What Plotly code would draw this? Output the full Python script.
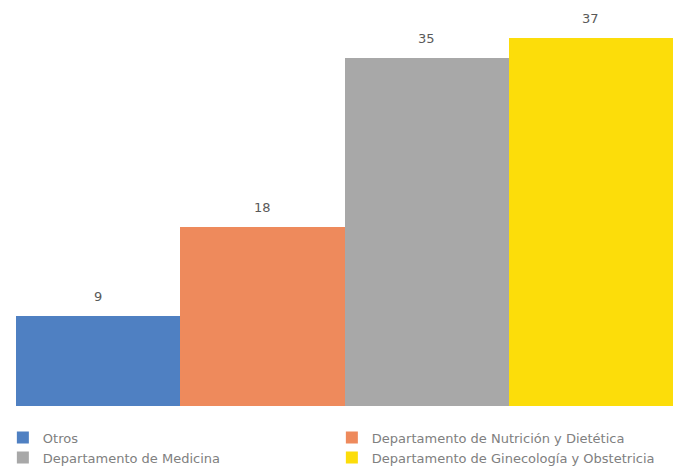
import plotly.graph_objects as go

# Data: number per department
categories = [
    "Otros",
    "Departamento de Nutrición y Dietética",
    "Departamento de Medicina",
    "Departamento de Ginecología y Obstetricia",
]
values = [9, 18, 35, 37]
colors = ["#4F80C2", "#EE8A5C", "#A8A8A8", "#FCDD0A"]

fig = go.Figure()
for i, (name, val, col) in enumerate(zip(categories, values, colors)):
    fig.add_trace(go.Bar(
        x=[i], y=[val], width=[1.0], name=name,
        marker=dict(color=col, line=dict(width=0)),
        hoverinfo="name+y",
    ))
    fig.add_annotation(
        x=i, y=val, text=str(val), showarrow=False,
        yanchor="bottom", yshift=10,
        font=dict(family="DejaVu Sans", size=13, color="#595959"),
    )

fig.update_layout(
    width=684, height=473,
    margin=dict(l=16, r=11, t=0, b=67),
    paper_bgcolor="white", plot_bgcolor="white",
    bargap=0, barmode="overlay",
    showlegend=True,
    legend=dict(
        orientation="h", x=-0.02, xanchor="left", y=-0.041, yanchor="top",
        entrywidth=284, entrywidthmode="pixels",
        font=dict(family="DejaVu Sans", size=13, color="#808080"),
        itemwidth=30, bgcolor="rgba(0,0,0,0)",
    ),
    xaxis=dict(range=[-0.5, 3.5], visible=False, fixedrange=True),
    yaxis=dict(range=[0, 40.8], visible=False, fixedrange=True),
)

fig.write_html("out.html")
